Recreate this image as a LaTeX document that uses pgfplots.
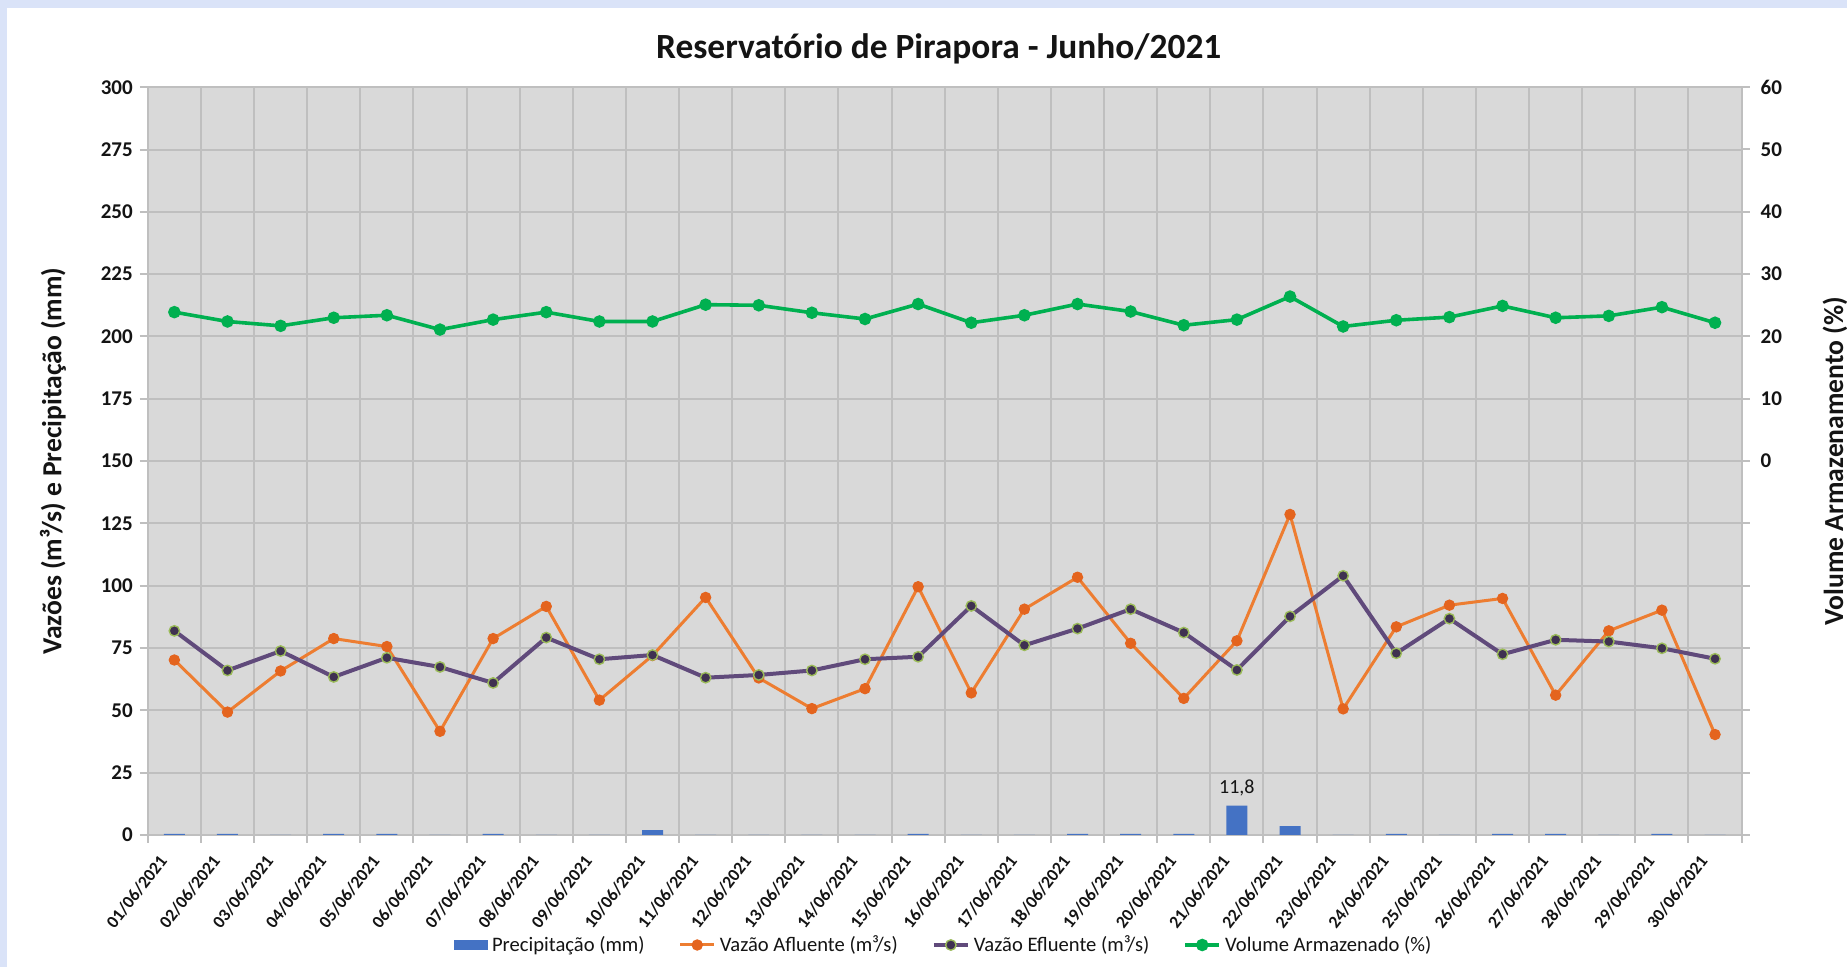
\documentclass[border=0pt]{standalone}
\usepackage{fontspec}
\setmainfont{Carlito}
\usepackage{pgfplots}
\pgfplotsset{compat=1.18}
\definecolor{plotbg}{RGB}{217,217,217}
\definecolor{gridc}{RGB}{191,191,191}
\definecolor{barblue}{RGB}{68,114,196}
\definecolor{afl}{RGB}{237,125,49}
\definecolor{aflmk}{RGB}{228,100,30}
\definecolor{efl}{RGB}{96,74,123}
\definecolor{eflmk}{RGB}{63,49,81}
\definecolor{eflmkedge}{RGB}{155,187,89}
\definecolor{vol}{RGB}{0,176,80}
\definecolor{framec}{RGB}{218,227,248}
\definecolor{txt}{RGB}{20,20,20}
\begin{document}
\begin{tikzpicture}[x=1pt,y=1pt]
\fill[white] (0,0) rectangle (923.5,483.5);
\fill[framec] (0,479.5) rectangle (923.5,483.5);
\fill[framec] (0,0) rectangle (3.5,483.5);
\path[use as bounding box] (0,0) rectangle (923.5,483.5);
\begin{axis}[
  at={(73.9pt,66pt)}, anchor=south west,
  scale only axis, width=796.9pt, height=373.9pt,
  xmin=0.5, xmax=30.5, ymin=0, ymax=300,
  axis background/.style={fill=plotbg},
  axis line style={draw=none},
  tick align=outside,
  xtick={1,...,30},
  xticklabels={01/06/2021,02/06/2021,03/06/2021,04/06/2021,05/06/2021,06/06/2021,07/06/2021,08/06/2021,09/06/2021,10/06/2021,11/06/2021,12/06/2021,13/06/2021,14/06/2021,15/06/2021,16/06/2021,17/06/2021,18/06/2021,19/06/2021,20/06/2021,21/06/2021,22/06/2021,23/06/2021,24/06/2021,25/06/2021,26/06/2021,27/06/2021,28/06/2021,29/06/2021,30/06/2021},
  major x tick style={draw=none},
  minor xtick={0.5,1.5,...,30.5},
  xminorgrids,
  minor x grid style={gridc, line width=1pt},
  minor x tick style={gridc, line width=1pt},
  minor tick length=4pt,
  major tick length=4pt,
  ytick={0,25,...,300},
  ymajorgrids,
  major y grid style={gridc, line width=1pt},
  ytick style={gridc, line width=1pt},
  xtick pos=bottom, ytick pos=left,
  /pgf/number format/assume math mode=true,
  yticklabel style={font=\bfseries\fontsize{10.5}{12}\selectfont, text=txt},
  xticklabel style={font=\bfseries\fontsize{8.8}{10}\selectfont, text=txt, xshift=-3.4pt, yshift=-4.8pt, rotate=52, anchor=east},
  ylabel={Vazões (m³/s) e Precipitação (mm)},
  ylabel style={at={(axis description cs:-0.0595,0.5)}, anchor=center, font=\bfseries\fontsize{13.8}{16}\selectfont, text=txt},
  title={Reservatório de Pirapora - Junho/2021},
  title style={at={(axis description cs:0.5,1)}, anchor=center, yshift=13pt, xshift=-3pt, font=\bfseries\fontsize{17.7}{20}\selectfont, text=txt},
  legend columns=4,
  legend style={at={(axis description cs:0.5,0)}, anchor=center, yshift=-55pt, draw=none, fill=none,
    font=\fontsize{10.3}{12}\selectfont, text=txt,
    /tikz/every even column/.append style={column sep=15pt}},
  clip=false,
]
\addplot[ybar, bar width=10.5pt, bar shift=0pt, fill=barblue, draw=none,
  legend image code/.code={\fill[barblue] (0pt,-2.5pt) rectangle (17pt,2.5pt);}]
coordinates {(1,0.4) (2,0.4) (3,0) (4,0.4) (5,0.4) (6,0) (7,0.4) (8,0) (9,0) (10,2.0)
 (11,0) (12,0) (13,0) (14,0) (15,0.4) (16,0) (17,0) (18,0.4) (19,0.4) (20,0.4)
 (21,11.8) (22,3.6) (23,0) (24,0.4) (25,0) (26,0.4) (27,0.4) (28,0) (29,0.4) (30,0)};
\addlegendentry{Precipitação (mm)}
\addplot[ybar, bar width=10.5pt, bar shift=0pt, draw=none, fill=none, forget plot,
  nodes near coords={11,8}, nodes near coords style={font=\fontsize{10}{12}\selectfont, text=txt, yshift=1pt}]
coordinates {(21,11.8)};
\addplot[afl, line width=1.5pt, mark=*, mark size=2.6pt, mark options={fill=aflmk, draw=aflmk, line width=0.5pt}]
coordinates {(1,70.2) (2,49.3) (3,65.8) (4,78.8) (5,75.6) (6,41.6) (7,78.8) (8,91.7) (9,54.1) (10,72.0)
 (11,95.3) (12,63.0) (13,50.7) (14,58.7) (15,99.6) (16,57.0) (17,90.6) (18,103.4) (19,76.9) (20,54.8)
 (21,77.9) (22,128.6) (23,50.6) (24,83.5) (25,92.2) (26,94.9) (27,56.1) (28,81.9) (29,90.2) (30,40.3)};
\addlegendentry{Vazão Afluente (m³/s)}
\addplot[efl, line width=2pt, mark=*, mark size=2.6pt, mark options={fill=eflmk, draw=eflmkedge, line width=0.7pt}]
coordinates {(1,81.9) (2,66.0) (3,73.8) (4,63.4) (5,71.1) (6,67.4) (7,61.0) (8,79.2) (9,70.5) (10,72.2)
 (11,63.1) (12,64.2) (13,66.0) (14,70.5) (15,71.5) (16,91.9) (17,76.1) (18,82.8) (19,90.6) (20,81.2)
 (21,66.2) (22,87.7) (23,104.0) (24,72.9) (25,86.8) (26,72.5) (27,78.3) (28,77.6) (29,74.9) (30,70.7)};
\addlegendentry{Vazão Efluente (m³/s)}
\addlegendimage{vol, line width=1.8pt, mark=*, mark size=2.2pt, mark options={fill=vol, draw=vol}}
\addlegendentry{Volume Armazenado (\%)}
\end{axis}
\begin{axis}[
  at={(73.9pt,66pt)}, anchor=south west,
  scale only axis, width=796.9pt, height=373.9pt,
  xmin=0.5, xmax=30.5, ymin=-60, ymax=60,
  axis x line=none,
  axis y line*=right,
  axis line style={draw=none},
  tick align=outside,
  major tick length=4pt,
  ytick={-60,-50,...,60},
  yticklabels={,,,,,,0,10,20,30,40,50,60},
  ytick style={gridc, line width=1pt},
  yticklabel style={font=\bfseries\fontsize{10.5}{12}\selectfont, text=txt, xshift=2pt},
  ylabel={Volume Armazenamento (\%)},
  ylabel style={at={(axis description cs:1.0585,0.5)}, anchor=center, font=\bfseries\fontsize{13.8}{16}\selectfont, text=txt},
  clip=false,
]
\addplot[vol, line width=1.8pt, mark=*, mark size=2.2pt, mark options={fill=vol, draw=vol}]
coordinates {(1,23.9) (2,22.4) (3,21.7) (4,23.0) (5,23.4) (6,21.1) (7,22.7) (8,23.9) (9,22.4) (10,22.4)
 (11,25.1) (12,25.0) (13,23.8) (14,22.8) (15,25.2) (16,22.2) (17,23.4) (18,25.2) (19,24.0) (20,21.8)
 (21,22.7) (22,26.4) (23,21.6) (24,22.6) (25,23.1) (26,24.9) (27,23.0) (28,23.3) (29,24.7) (30,22.2)};
\end{axis}
\end{tikzpicture}
\end{document}
